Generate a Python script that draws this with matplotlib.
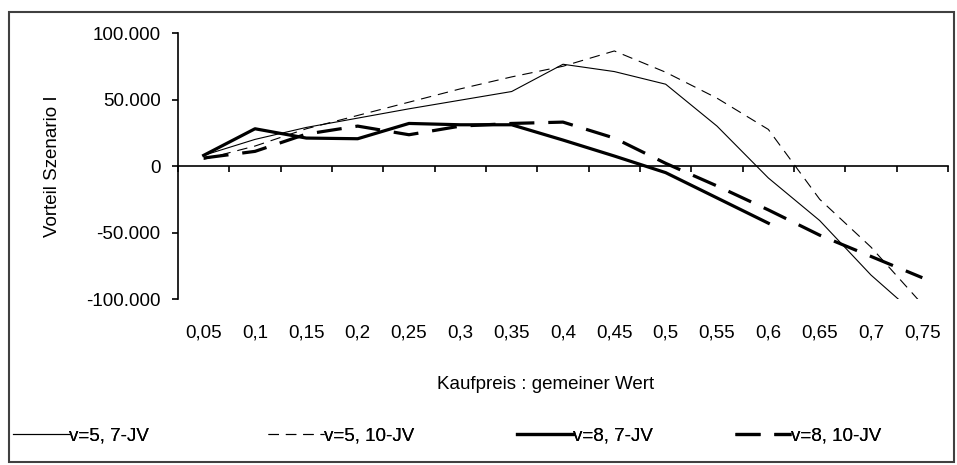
import numpy as np
import matplotlib.pyplot as plt
from matplotlib.patches import Rectangle

plt.rcParams['font.family'] = ['Liberation Sans', 'DejaVu Sans']
plt.rcParams['font.size'] = 13.5
plt.rcParams['lines.scale_dashes'] = False

# Kategorien (Kaufpreis : gemeiner Wert)
kaufpreis = [0.05, 0.10, 0.15, 0.20, 0.25, 0.30, 0.35, 0.40,
             0.45, 0.50, 0.55, 0.60, 0.65, 0.70, 0.75]
x_labels = ['0,05', '0,1', '0,15', '0,2', '0,25', '0,3', '0,35', '0,4',
            '0,45', '0,5', '0,55', '0,6', '0,65', '0,7', '0,75']

# Vorteil Szenario I je Variante
v5_7jv = [8000, 20000, 29000, 36000, 43000, 49500, 56000, 76500,
          71000, 61500, 30000, -9000, -41000, -82000, -116000]
v5_10jv = [5000, 15000, 28000, 38000, 48000, 58000, 67000, 75000,
           86500, 70500, 51000, 27500, -25000, -61000, -104000]
v8_7jv = [8000, 28000, 21000, 20500, 32000, 31000, 31000, 19500,
          7500, -5000, -24000, -43000, np.nan, np.nan, np.nan]
v8_10jv = [6000, 11000, 24000, 30000, 23500, 30000, 32000, 33000,
           21000, 2000, -15000, -33000, -52000, -68000, -84000]

series_names = ['v=5, 7-JV', 'v=5, 10-JV', 'v=8, 7-JV', 'v=8, 10-JV']

y_ticks = [-100000, -50000, 0, 50000, 100000]
y_labels = ['-100.000', '-50.000', '0', '50.000', '100.000']

fig = plt.figure(figsize=(9.57, 4.65), dpi=100)
ax = fig.add_axes([178 / 957, 166 / 465, 770 / 957, 266 / 465])

styles = [
    dict(lw=0.8, ls='-'),
    dict(lw=0.8, ls=(0, (7.5, 5))),
    dict(lw=2.3, ls='-'),
    dict(lw=2.3, ls=(0, (18, 10))),
]
lines = []
for vals, name, st in zip([v5_7jv, v5_10jv, v8_7jv, v8_10jv], series_names, styles):
    ln, = ax.plot(kaufpreis, vals, color='black', label=name, **st)
    lines.append(ln)

ax.set_xlim(0.025, 0.775)
ax.set_ylim(-100000, 100000)

for s in ['top', 'right', 'bottom']:
    ax.spines[s].set_visible(False)
ax.spines['left'].set_linewidth(1.2)

ax.set_yticks(y_ticks, y_labels)
ax.tick_params(axis='y', direction='out', length=4.5, width=1.2, pad=8)
ax.set_xticks(kaufpreis, x_labels)
ax.tick_params(axis='x', length=0, pad=18)

# Nulllinie mit Teilstrichen zwischen den Kategorien
grenzen = np.arange(0.025, 0.80, 0.05)
sec = ax.secondary_xaxis(0.5)
sec.set_alignment('bottom')
sec.set_xticks(grenzen)
sec.tick_params(direction='out', length=4.5, width=1.2, labelbottom=False)
sec.spines['bottom'].set_linewidth(1.2)

ax.set_ylabel('Vorteil Szenario I')
ax.yaxis.set_label_coords(-0.152, 0.5)
ax.set_xlabel('Kaufpreis : gemeiner Wert')
ax.xaxis.set_label_coords(0.477, -0.29)

# Legende ohne Rahmen, Einträge einzeln gesetzt
starts = [13, 268, 517, 735]
for ln, x0 in zip(lines, starts):
    leg = fig.legend(handles=[ln], loc='center left',
                     bbox_to_anchor=(x0 / 957, 29 / 465), frameon=False,
                     handlelength=3.0, handletextpad=0.0, borderpad=0,
                     borderaxespad=0)
    fig.add_artist(leg)

fig.patches.append(Rectangle((9 / 957, 3 / 465), 945 / 957, 450 / 465,
                             transform=fig.transFigure, fill=False,
                             edgecolor='#404040', lw=1.5))

fig.savefig('out.png', dpi=100)
